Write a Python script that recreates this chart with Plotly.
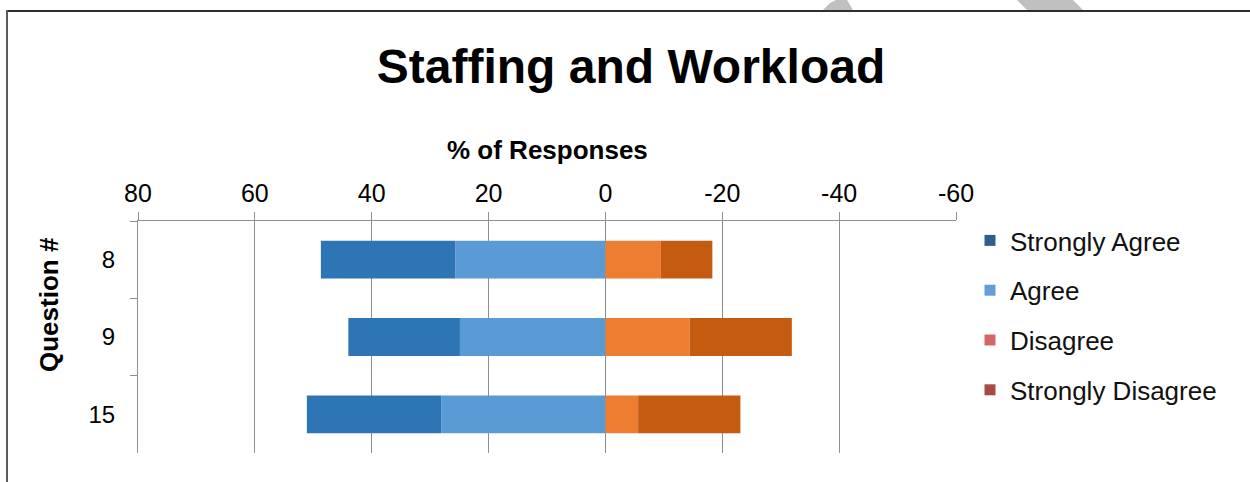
import plotly.graph_objects as go

# Survey responses (% of respondents); disagreement plotted as negative values
questions = ["8", "9", "15"]
strongly_agree = [23.0, 19.1, 23.0]
agree = [25.7, 24.9, 28.1]
disagree = [-9.5, -14.4, -5.6]
strongly_disagree = [-8.8, -17.5, -17.5]

x_ticks = [80, 60, 40, 20, 0, -20, -40, -60]
legend_names = ["Strongly Agree", "Agree", "Disagree", "Strongly Disagree"]
legend_colors = ["#2c5f90", "#629fda", "#d46666", "#a84a44"]

W, H = 1250, 482
L, R, T, B = 138, 294, 221, 29
PW, PH = W - L - R, H - T - B
FONT = "Liberation Sans"


def px(x):
    return (x - L) / PW


def py(y):
    return (H - B - y) / PH


fig = go.Figure()

# Stacking order: the first trace of each sign sits next to zero
bar_series = [
    ("Agree", agree, "#5b9bd5"),
    ("Strongly Agree", strongly_agree, "#2e75b6"),
    ("Disagree", disagree, "#ed7d31"),
    ("Strongly Disagree", strongly_disagree, "#c55a11"),
]
for name, vals, color in bar_series:
    fig.add_trace(go.Bar(
        x=vals, y=questions, name=name, orientation="h",
        marker=dict(color=color, line=dict(width=0)),
        width=0.49, showlegend=False, hoverinfo="x+name",
    ))

# Legend entries
for name, color in zip(legend_names, legend_colors):
    fig.add_trace(go.Scatter(
        x=[None], y=[None], mode="markers", name=name,
        legendgroup=name,
        marker=dict(symbol="square", size=11, color=color),
    ))

shapes = [
    # watermark fragments peeking in at the top edge
    dict(type="path", xref="paper", yref="paper", layer="above",
         path=(f"M{px(823):.5f},{py(10):.5f} L{px(830):.5f},{py(3):.5f} "
               f"L{px(836):.5f},{py(0):.5f} L{px(847):.5f},{py(0):.5f} "
               f"L{px(853):.5f},{py(10):.5f} Z"),
         fillcolor="#c0c0c0", line=dict(width=0)),
    dict(type="path", xref="paper", yref="paper", layer="above",
         path=(f"M{px(1017):.5f},{py(0):.5f} L{px(1073):.5f},{py(0):.5f} "
               f"L{px(1083):.5f},{py(10):.5f} L{px(1027):.5f},{py(10):.5f} Z"),
         fillcolor="#c0c0c0", line=dict(width=0)),
    # outer frame
    dict(type="line", xref="paper", yref="paper", layer="above",
         x0=px(7), x1=px(1260), y0=py(11), y1=py(11),
         line=dict(color="#2e2e2e", width=2)),
    dict(type="line", xref="paper", yref="paper", layer="above",
         x0=px(7), x1=px(7), y0=py(10), y1=py(500),
         line=dict(color="#5a5a5a", width=2)),
]

fig.update_layout(
    width=W, height=H,
    margin=dict(l=L, r=R, t=T, b=B, pad=0),
    paper_bgcolor="white", plot_bgcolor="white",
    barmode="relative",
    font=dict(family=FONT, color="#000000"),
    title=dict(
        text="Staffing and Workload", x=631 / W, xanchor="center",
        y=1 - 66 / H, yanchor="middle", xref="container", yref="container",
        font=dict(family=FONT, size=48, weight="bold", color="#000000"),
    ),
    xaxis=dict(
        side="top", range=[80, -60], tickvals=x_ticks,
        ticktext=[str(v) for v in x_ticks],
        showgrid=True, gridcolor="#8f8f8f", gridwidth=1,
        zeroline=False, showline=True, linecolor="#8f8f8f", linewidth=1,
        ticks="outside", ticklen=8, tickcolor="#8f8f8f",
        tickfont=dict(family=FONT, size=25, color="#000000"),
        fixedrange=True,
    ),
    yaxis=dict(
        type="category", categoryorder="array", categoryarray=questions,
        autorange="reversed",
        showgrid=False, zeroline=False,
        showline=True, linecolor="#8f8f8f", linewidth=1,
        ticks="outside", tickson="boundaries", ticklen=7, tickcolor="#8f8f8f",
        tickfont=dict(family=FONT, size=24, color="#000000"),
        ticklabelstandoff=17,
        fixedrange=True,
    ),
    legend=dict(
        x=px(970), xanchor="left", y=py(217), yanchor="top",
        font=dict(family=FONT, size=26, color="#111111"),
        tracegroupgap=13, itemclick=False, itemdoubleclick=False,
        bgcolor="rgba(0,0,0,0)",
    ),
    annotations=[
        dict(text="% of Responses", xref="paper", yref="paper",
             x=px(547), y=py(150), xanchor="center", yanchor="middle",
             showarrow=False,
             font=dict(family=FONT, size=26, weight="bold", color="#000000")),
        dict(text="Question #", xref="paper", yref="paper",
             x=px(49), y=py(305), xanchor="center", yanchor="middle",
             textangle=-90, showarrow=False,
             font=dict(family=FONT, size=26, weight="bold", color="#000000")),
    ],
    shapes=shapes,
)

fig.write_html("out.html")
